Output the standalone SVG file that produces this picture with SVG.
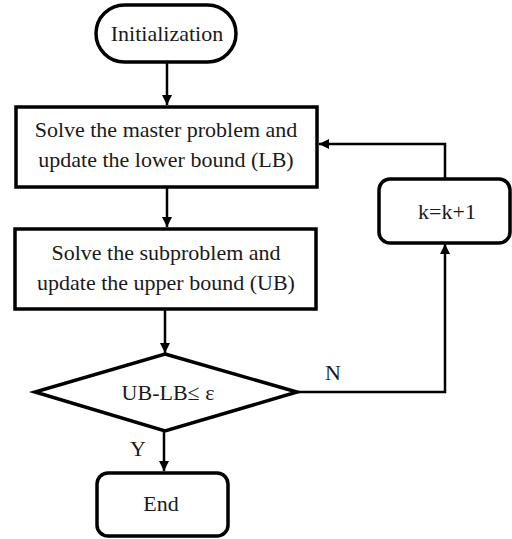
<svg xmlns="http://www.w3.org/2000/svg" width="512" height="539" viewBox="0 0 512 539">
<style>
.box{fill:#fff;stroke:#000;stroke-width:3.5}
.t{font-family:'Liberation Serif',serif;font-size:22px;fill:#1a1a1a;text-anchor:middle}
.ln{fill:none;stroke:#000;stroke-width:2.5}
</style>
<defs>
<marker id="ah" viewBox="0 0 10 10" refX="10" refY="5" markerWidth="10" markerHeight="10" markerUnits="userSpaceOnUse" orient="auto">
<path d="M0,0 L10,5 L0,10 Z" fill="#000"/>
</marker>
</defs>
<rect width="512" height="539" fill="#fff"/>
<g id="connectors">
<line class="ln" x1="167" y1="63" x2="167" y2="105" marker-end="url(#ah)"/>
<line class="ln" x1="167" y1="188" x2="167" y2="227" marker-end="url(#ah)"/>
<line class="ln" x1="165" y1="310" x2="165" y2="353" marker-end="url(#ah)"/>
<line class="ln" x1="164" y1="431" x2="164" y2="471" marker-end="url(#ah)"/>
<polyline class="ln" points="297,392 445,392 445,244" marker-end="url(#ah)"/>
<polyline class="ln" points="445,178 445,144 319,144" marker-end="url(#ah)"/>
</g>
<g id="init">
<rect class="box" x="96" y="5" width="140" height="57" rx="28.5"/>
<text class="t" x="167" y="41" font-family="Liberation Serif">Initialization</text>
</g>
<g id="master">
<rect class="box" x="16" y="107" width="301" height="80"/>
<text class="t" x="166" y="137" font-family="Liberation Serif">Solve the master problem and</text>
<text class="t" x="166" y="167" font-family="Liberation Serif">update the lower bound (LB)</text>
</g>
<g id="sub">
<rect class="box" x="15" y="229" width="301" height="80"/>
<text class="t" x="166" y="260" font-family="Liberation Serif">Solve the subproblem and</text>
<text class="t" x="166" y="290" font-family="Liberation Serif">update the upper bound (UB)</text>
</g>
<g id="decision">
<polygon class="box" points="165,354 297,392 165,431 35,392"/>
<text class="t" x="168" y="400" font-family="Liberation Serif">UB-LB≤ ε</text>
</g>
<g id="kupdate">
<rect class="box" x="379" y="179" width="131" height="64" rx="11"/>
<text class="t" x="447" y="219" font-family="Liberation Serif">k=k+1</text>
</g>
<g id="end">
<rect class="box" x="97" y="473" width="131" height="63" rx="11"/>
<text class="t" x="161" y="511" font-family="Liberation Serif">End</text>
</g>
<g id="labels">
<text class="t" x="333" y="380" font-family="Liberation Serif">N</text>
<text class="t" x="138" y="456" font-family="Liberation Serif">Y</text>
</g>
</svg>
